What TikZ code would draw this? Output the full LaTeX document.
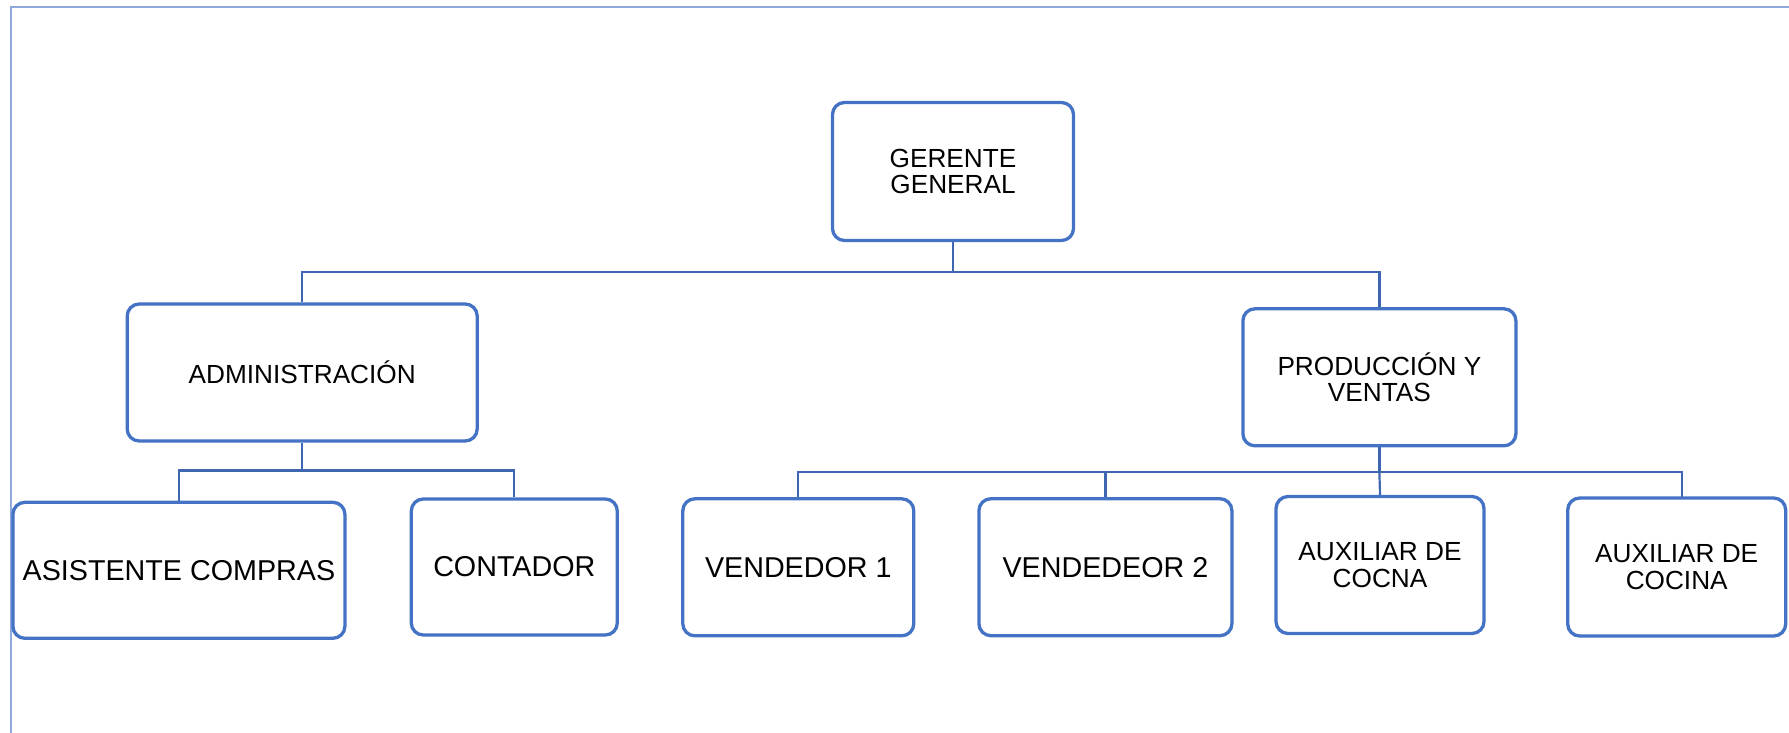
\documentclass[tikz,border=0pt]{standalone}
\usepackage{fontspec}
\setmainfont{Liberation Sans}
\definecolor{boxblue}{HTML}{4472C4}
\definecolor{lineblue}{HTML}{3F67B1}
\definecolor{frameblue}{HTML}{8EAADB}
\tikzset{
  orgbox/.style={draw=boxblue, line width=3.3pt, rounded corners=12pt, fill=white,
    inner sep=0pt, align=center, text=black,
    font=\fontsize{26.2}{26.5}\selectfont},
  bigtxt/.style={font=\fontsize{28.7}{29}\selectfont},
  conn/.style={draw=lineblue, line width=2.2pt},
  framel/.style={draw=frameblue, line width=2pt}
}
\begin{document}
\begin{tikzpicture}[x=1pt,y=-1pt]
\useasboundingbox (0,0) rectangle (1789,733);
\draw[framel] (10.5,733) -- (10.5,7) -- (1789,7);

\node[orgbox, minimum width=241pt, minimum height=138pt] (g) at (953,171.5) {GERENTE\\GENERAL};
\node[orgbox, minimum width=350pt, minimum height=137pt] (adm) at (302.2,372.5) {ADMINISTRACIÓN};
\node[orgbox, minimum width=273pt, minimum height=137pt] (prod) at (1379.4,377.3) {PRODUCCIÓN Y\\VENTAS};
\node[orgbox, bigtxt, minimum width=332pt, minimum height=136pt] (asis) at (178.9,570.3) {ASISTENTE COMPRAS};
\node[orgbox, bigtxt, minimum width=206pt, minimum height=136pt] (cont) at (514.3,567) {CONTADOR};
\node[orgbox, bigtxt, minimum width=231pt, minimum height=137pt] (v1) at (798.3,567.3) {VENDEDOR 1};
\node[orgbox, bigtxt, minimum width=253pt, minimum height=137pt] (v2) at (1105.4,567.2) {VENDEDEOR 2};
\node[orgbox, minimum width=208pt, minimum height=137pt] (aux1) at (1380,565) {AUXILIAR DE\\COCNA};
\node[orgbox, minimum width=218pt, minimum height=138pt] (aux2) at (1676.7,567) {AUXILIAR DE\\COCINA};

\coordinate (j0) at (953,272);
\coordinate (j1) at (302.2,470.5);
\coordinate (j2) at (1379.4,472.3);
\coordinate (a2top) at (1682,497);

\draw[conn] (g.south) -- (j0) -| (adm.north);
\draw[conn] (j0) -| (prod.north);
\draw[conn] (adm.south) -- (j1) -| (asis.north);
\draw[conn] (j1) -| (cont.north);
\draw[conn] (prod.south) -- (j2) -| (v1.north);
\draw[conn] (j2) -| (v2.north);
\draw[conn] (j2) -- (aux1.north);
\draw[conn] (j2) -| (a2top);
\end{tikzpicture}
\end{document}
